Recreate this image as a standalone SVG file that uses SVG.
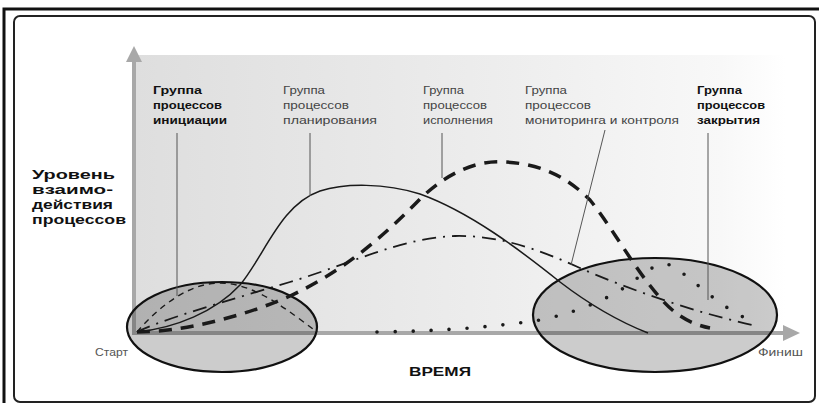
<svg xmlns="http://www.w3.org/2000/svg" width="819" height="403" viewBox="0 0 819 403">
  <defs>
    <linearGradient id="bg" x1="0" y1="0" x2="1" y2="0">
      <stop offset="0" stop-color="#dedede"/>
      <stop offset="0.55" stop-color="#ededed"/>
      <stop offset="0.9" stop-color="#f8f8f8"/>
      <stop offset="1" stop-color="#ffffff"/>
    </linearGradient>
    <style>
      .t { font-family: "Liberation Sans", Arial, sans-serif; font-size: 11px; fill: #444; }
      .tb { font-family: "Liberation Sans", Arial, sans-serif; font-size: 11px; font-weight: bold; fill: #111; }
      .ylab { font-family: "Liberation Sans", Arial, sans-serif; font-size: 13px; font-weight: bold; fill: #111; }
      .axlab { font-family: "Liberation Sans", Arial, sans-serif; font-size: 11px; fill: #555; }
      .axis { stroke: #a8a8a8; stroke-width: 4; fill: none; }
      .arrowhead { fill: #a8a8a8; }
      .leader { stroke: #555; stroke-width: 1; fill: none; }
      .curve { fill: none; stroke: #1a1a1a; }
      .ell { fill: #000; fill-opacity: 0.2; stroke: #111; stroke-width: 2.2; }
    </style>
  </defs>

  <!-- frame -->
  <rect x="0" y="0" width="819" height="403" fill="#fff"/>
  <path d="M4,403 V9 H819" fill="none" stroke="#111" stroke-width="3"/>
  <rect x="14" y="16" width="801" height="386" rx="6" fill="#fff" stroke="#222" stroke-width="2"/>

  <!-- plot area -->
  <rect x="136" y="55" width="650" height="278" fill="url(#bg)"/>

  <!-- axes -->
  <g id="axes">
    <line class="axis" x1="134" y1="335" x2="134" y2="60"/>
    <polygon class="arrowhead" points="126,62 134,46 142,62"/>
    <line class="axis" x1="132" y1="333" x2="785" y2="333"/>
    <polygon class="arrowhead" points="783,325 800,333 783,341"/>
  </g>

  <!-- ellipses -->
  <g id="ellipse-start">
    <ellipse class="ell" cx="222" cy="327" rx="95" ry="45"/>
  </g>
  <g id="ellipse-finish">
    <ellipse class="ell" cx="655" cy="315" rx="122" ry="57"/>
  </g>

  <!-- curves -->
  <g id="curves">
    <path id="curve-initiation" class="curve" stroke="#3a3a3a" stroke-width="1.4" stroke-dasharray="6 5" d="M137,332 C160,305 190,283 220,283 C255,283 290,312 317,332"/>
    <path id="curve-planning" class="curve" stroke-width="1.5" d="M137,332 C175,328 215,312 240,285 C265,255 280,205 320,191 C345,183 385,183 420,194 C470,212 520,250 560,282 C590,305 620,322 648,333"/>
    <path id="curve-execution" class="curve" stroke-width="3.5" stroke-dasharray="13 9" d="M137,332 C180,332 240,318 290,296 C340,273 380,240 420,199 C450,170 480,160 505,162 C545,164 570,180 590,200 C610,225 630,260 648,283 C665,305 680,322 710,328"/>
    <path id="curve-monitoring" class="curve" stroke-width="1.8" stroke-dasharray="14 7 2 7" d="M137,332 C160,320 230,300 290,282 C350,264 400,238 455,236 C500,235 540,250 580,268 C630,290 700,314 757,326"/>
    <path id="curve-closing" class="curve" stroke-width="3.6" stroke-linecap="round" stroke-dasharray="0 18" d="M377,332 C450,331 500,326 540,320 C580,312 615,296 635,280 C650,268 660,262 670,265 C690,275 720,310 757,323"/>
  </g>

  <!-- leader lines -->
  <g id="connectors">
    <line class="leader" x1="177" y1="133" x2="177" y2="296"/>
    <line class="leader" x1="310" y1="133" x2="310" y2="196"/>
    <line class="leader" x1="442" y1="133" x2="442" y2="178"/>
    <line class="leader" x1="605" y1="130" x2="571" y2="265"/>
    <line class="leader" x1="708" y1="133" x2="708" y2="300"/>
  </g>

  <!-- labels -->
  <g id="label-y">
    <text class="ylab" x="32" y="179" textLength="83" lengthAdjust="spacingAndGlyphs">Уровень</text>
    <text class="ylab" x="32" y="194" textLength="81" lengthAdjust="spacingAndGlyphs">взаимо-</text>
    <text class="ylab" x="32" y="209" textLength="81" lengthAdjust="spacingAndGlyphs">действия</text>
    <text class="ylab" x="32" y="224" textLength="94" lengthAdjust="spacingAndGlyphs">процессов</text>
  </g>
  <g id="label-initiation">
    <text class="tb" x="153" y="94" textLength="49" lengthAdjust="spacingAndGlyphs">Группа</text>
    <text class="tb" x="153" y="109" textLength="69" lengthAdjust="spacingAndGlyphs">процессов</text>
    <text class="tb" x="153" y="124" textLength="74" lengthAdjust="spacingAndGlyphs">инициации</text>
  </g>
  <g id="label-planning">
    <text class="t" x="283" y="94" textLength="42" lengthAdjust="spacingAndGlyphs">Группа</text>
    <text class="t" x="283" y="109" textLength="66" lengthAdjust="spacingAndGlyphs">процессов</text>
    <text class="t" x="283" y="124" textLength="94" lengthAdjust="spacingAndGlyphs">планирования</text>
  </g>
  <g id="label-execution">
    <text class="t" x="423" y="94" textLength="41" lengthAdjust="spacingAndGlyphs">Группа</text>
    <text class="t" x="423" y="109" textLength="64" lengthAdjust="spacingAndGlyphs">процессов</text>
    <text class="t" x="423" y="124" textLength="70" lengthAdjust="spacingAndGlyphs">исполнения</text>
  </g>
  <g id="label-monitoring">
    <text class="t" x="525" y="94" textLength="42" lengthAdjust="spacingAndGlyphs">Группа</text>
    <text class="t" x="525" y="109" textLength="66" lengthAdjust="spacingAndGlyphs">процессов</text>
    <text class="t" x="525" y="124" textLength="154" lengthAdjust="spacingAndGlyphs">мониторинга и контроля</text>
  </g>
  <g id="label-closing">
    <text class="tb" x="697" y="94" textLength="45" lengthAdjust="spacingAndGlyphs">Группа</text>
    <text class="tb" x="697" y="109" textLength="68" lengthAdjust="spacingAndGlyphs">процессов</text>
    <text class="tb" x="697" y="124" textLength="63" lengthAdjust="spacingAndGlyphs">закрытия</text>
  </g>
  <g id="label-start">
    <text class="axlab" x="95" y="356" textLength="33" lengthAdjust="spacingAndGlyphs">Старт</text>
  </g>
  <g id="label-finish">
    <text class="axlab" x="758" y="356" textLength="45" lengthAdjust="spacingAndGlyphs">Финиш</text>
  </g>
  <g id="label-time">
    <text class="ylab" x="409" y="376" font-size="15" textLength="62" lengthAdjust="spacingAndGlyphs">ВРЕМЯ</text>
  </g>
</svg>
